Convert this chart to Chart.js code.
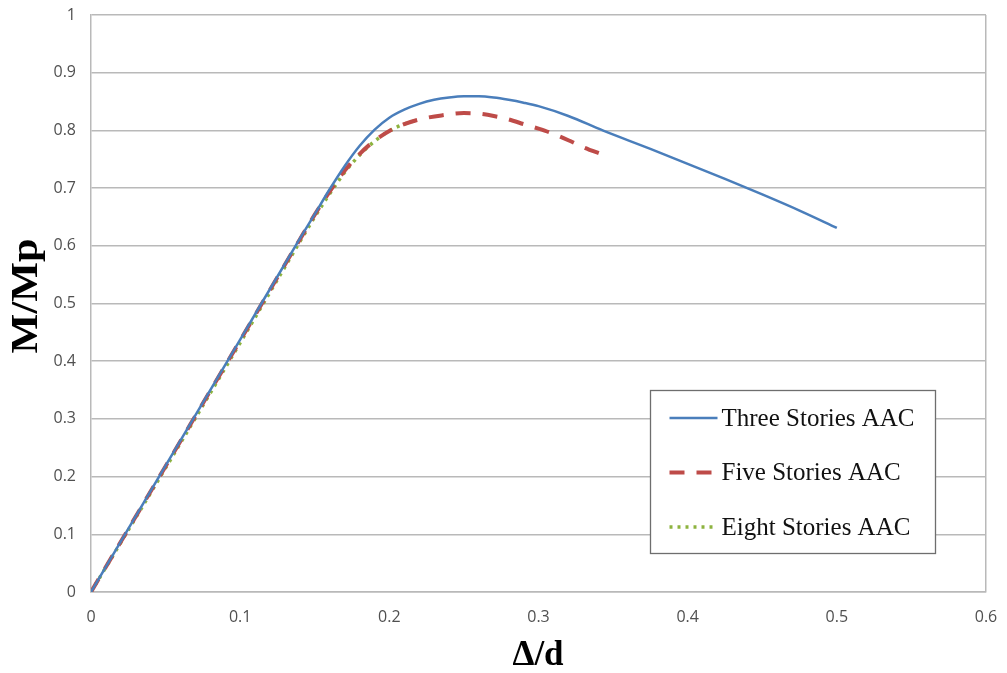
<!DOCTYPE html>
<html>
<head>
<meta charset="utf-8">
<script src="https://cdn.jsdelivr.net/npm/chart.js@4.4.0/dist/chart.umd.min.js"></script>
<style>
  html, body { margin: 0; padding: 0; background: #fff; }
  #wrap { width: 1007px; height: 673px; }
</style>
</head>
<body>
<div id="wrap"><canvas id="chart" width="1007" height="673"></canvas></div>
<script>
// drift ratio (x) and normalised moment (y)
const driftThree  = [0, 0.05, 0.10, 0.14, 0.15, 0.16, 0.17, 0.18, 0.19, 0.20, 0.21, 0.22, 0.23, 0.24, 0.25, 0.26, 0.27, 0.28, 0.29, 0.30, 0.32, 0.343, 0.375, 0.40, 0.425, 0.45, 0.475, 0.50];
const momentThree = [0, 0.219, 0.4375, 0.6125, 0.655, 0.698, 0.738, 0.773, 0.801, 0.822, 0.836, 0.846, 0.853, 0.857, 0.859, 0.859, 0.857, 0.853, 0.848, 0.842, 0.825, 0.80, 0.768, 0.742, 0.716, 0.689, 0.661, 0.631];

const driftFive  = [0, 0.05, 0.10, 0.14, 0.15, 0.16, 0.17, 0.18, 0.19, 0.20, 0.21, 0.22, 0.235, 0.25, 0.26, 0.27, 0.28, 0.29, 0.30, 0.31, 0.32, 0.33, 0.343];
const momentFive = [0, 0.218, 0.436, 0.611, 0.654, 0.694, 0.730, 0.759, 0.782, 0.799, 0.811, 0.819, 0.826, 0.83, 0.829, 0.825, 0.819, 0.811, 0.803, 0.794, 0.783, 0.771, 0.758];

const driftEight  = [0, 0.05, 0.10, 0.14, 0.15, 0.16, 0.17, 0.18, 0.19, 0.20, 0.21, 0.22];
const momentEight = [0, 0.215, 0.432, 0.607, 0.65, 0.69, 0.727, 0.757, 0.781, 0.799, 0.811, 0.819];

const seriesNames = ['Three Stories AAC', 'Five Stories AAC', 'Eight Stories AAC'];
const xTicks = [0, 0.1, 0.2, 0.3, 0.4, 0.5, 0.6];
const yTicks = [0, 0.1, 0.2, 0.3, 0.4, 0.5, 0.6, 0.7, 0.8, 0.9, 1];
const xTitle = 'Δ/d';
const yTitle = 'M/Mp';

function toPoints(xs, ys) {
    return xs.map((x, i) => ({ x: x, y: ys[i] }));
}

const gridColor = '#b9b9b9';
const serif = '"Liberation Serif", "Times New Roman", serif';

// axis titles and the boxed legend inside the plot, like the original
const extras = {
    id: 'extras',
    afterDraw(chart) {
        const ctx = chart.ctx;
        const a = chart.chartArea;
        ctx.save();
        ctx.fillStyle = '#000';
        ctx.textAlign = 'center';
        ctx.textBaseline = 'alphabetic';
        ctx.font = 'bold 35px ' + serif;
        ctx.fillText(xTitle, a.left + 447, a.bottom + 73);
        ctx.save();
        ctx.translate(37, a.top + 281);
        ctx.rotate(-Math.PI / 2);
        ctx.scale(1.14, 1);
        ctx.font = 'bold 37px ' + serif;
        ctx.fillText(yTitle, 0, 0);
        ctx.restore();

        const left = a.left + 559.5, top = a.top + 375.5, w = 285, h = 163;
        ctx.fillStyle = '#fff';
        ctx.fillRect(left, top, w, h);
        ctx.strokeStyle = '#6e6e6e';
        ctx.lineWidth = 1.3;
        ctx.strokeRect(left, top, w, h);
        ctx.font = '25px ' + serif;
        ctx.textAlign = 'left';
        ctx.textBaseline = 'middle';
        chart.data.datasets.forEach((ds, i) => {
            const y = top + 27.5 + i * 54.5;
            ctx.beginPath();
            ctx.strokeStyle = ds.borderColor;
            ctx.lineWidth = ds.borderWidth;
            ctx.setLineDash(ds.borderDash || []);
            ctx.moveTo(left + 19, y);
            ctx.lineTo(left + 67, y);
            ctx.stroke();
            ctx.setLineDash([]);
            ctx.fillStyle = '#111';
            ctx.fillText(ds.label, left + 71, y + 1);
        });
        ctx.restore();
    }
};

const tickFont = { family: '"Open Sans", sans-serif', size: 16 };

const ctx = document.getElementById('chart').getContext('2d');
const chart = new Chart(ctx, {
    type: 'scatter',
    data: {
        datasets: [
            {
                label: seriesNames[0],
                data: toPoints(driftThree, momentThree),
                borderColor: '#4a7ebb',
                borderWidth: 2.5,
                showLine: true,
                pointRadius: 0,
                cubicInterpolationMode: 'monotone'
            },
            {
                label: seriesNames[1],
                data: toPoints(driftFive, momentFive),
                borderColor: '#be4b48',
                borderWidth: 4,
                borderDash: [15, 12],
                showLine: true,
                pointRadius: 0,
                cubicInterpolationMode: 'monotone'
            },
            {
                label: seriesNames[2],
                data: toPoints(driftEight, momentEight),
                borderColor: '#8db33f',
                borderWidth: 3.5,
                borderDash: [3, 5],
                showLine: true,
                pointRadius: 0,
                cubicInterpolationMode: 'monotone'
            }
        ]
    },
    options: {
        responsive: false,
        animation: false,
        layout: { padding: { top: 15, right: 21, left: 0, bottom: 0 } },
        plugins: {
            legend: { display: false },
            tooltip: { enabled: false }
        },
        scales: {
            x: {
                type: 'linear',
                min: 0,
                max: 0.6,
                afterFit: s => { s.height = 81; s.paddingLeft = 0; s.paddingRight = 0; },
                afterBuildTicks: s => { s.ticks = xTicks.map(v => ({ value: v })); },
                grid: {
                    drawTicks: false,
                    lineWidth: 1.5,
                    color: c => (c.tick && c.tick.value === 0.6 ? gridColor : 'rgba(0,0,0,0)')
                },
                border: { color: gridColor, width: 1.5 },
                ticks: {
                    padding: 16,
                    color: '#505050',
                    font: tickFont,
                    callback: v => String(v)
                }
            },
            y: {
                type: 'linear',
                min: 0,
                max: 1,
                afterFit: s => { s.width = 91; s.paddingTop = 0; s.paddingBottom = 0; },
                afterBuildTicks: s => { s.ticks = yTicks.map(v => ({ value: v })); },
                grid: { drawTicks: false, color: gridColor, lineWidth: 1.5 },
                border: { color: gridColor, width: 1.5 },
                ticks: {
                    padding: 15,
                    color: '#505050',
                    font: tickFont,
                    callback: v => String(v)
                }
            }
        }
    },
    plugins: [extras]
});
</script>
</body>
</html>
